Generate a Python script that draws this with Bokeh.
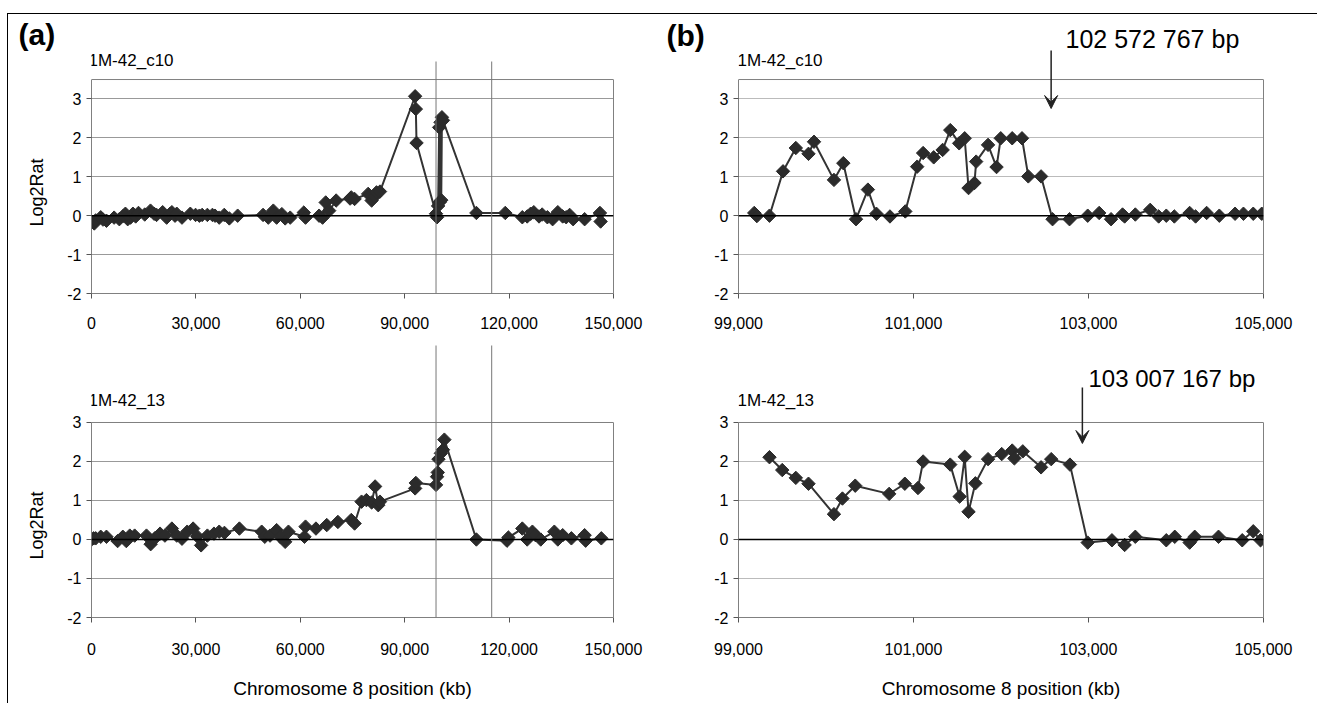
from bokeh.plotting import figure
from bokeh.layouts import column, row
from bokeh.models import (FixedTicker, NumeralTickFormatter, Span, Arrow, VeeHead,
                          Label, Range1d, Title, LinearAxis)
from bokeh.embed import file_html
from bokeh.resources import INLINE

FONT = "Liberation Sans"

# ---------------- data (kb, Log2Rat) ----------------
a_top_x = [0, 800, 1200, 2650, 3300, 4300, 6500, 8000, 9200, 9750, 10400, 11200, 11900,
           12700, 13500, 15300, 16950, 18000, 18700, 20450, 21600, 22600, 23100, 24000,
           24500, 26000, 28400, 29900, 31000, 31800, 33300, 34750, 35500, 36700, 38150,
           39600, 42000, 49300, 50800, 52250, 53200, 54700, 55650, 57100, 61000, 61500,
           65400, 66400, 67300, 68300, 70300, 74300, 74650, 75600, 79500, 80500, 81400,
           81900, 82900, 93000, 93200, 93400, 99000, 99300, 99600, 99900, 100100, 100300,
           100500, 100700, 101000, 110600, 118900, 123800, 125200, 126200, 127100, 128600,
           129500, 131000, 132500, 134000, 135400, 136400, 137400, 138400, 141700, 146100,
           146300]
a_top_y = [-0.17, -0.2, -0.12, -0.04, -0.1, -0.13, -0.05, -0.09, 0.0, 0.05, -0.09, -0.05, 0.05,
           -0.02, 0.07, 0.03, 0.13, 0.05, 0.02, 0.09, -0.05, 0.05, 0.09, 0.0,
           0.05, -0.05, 0.05, 0.02, 0.0, 0.02, 0.02, 0.02, 0.0, -0.05, 0.02,
           -0.07, 0.0, 0.02, -0.05, 0.13, -0.05, 0.04, -0.07, -0.05, 0.08, -0.05,
           0.0, -0.05, 0.34, 0.13, 0.39, 0.44, 0.47, 0.43, 0.56, 0.39, 0.5,
           0.6, 0.62, 3.07, 2.74, 1.87, 0.05, -0.04, 0.25, 2.27, 0.35, 2.4,
           0.4, 2.53, 2.45, 0.07, 0.07, -0.04, -0.02, 0.05, 0.09, -0.02,
           0.03, -0.04, -0.09, 0.09, -0.02, -0.04, 0.02, -0.09, -0.09, 0.07,
           -0.15]

a_bot_x = [0, 600, 1200, 2650, 4300, 7500, 9000, 10000, 11000, 12400, 15800, 17000, 18200,
           19700, 21100, 23100, 24500, 26000, 27500, 29200, 30400, 31500, 33300, 35200,
           36700, 38200, 42500, 48900, 49800, 51300, 53200, 54200, 55650, 56600, 61200,
           61500, 64500, 67600, 70800, 74650, 75600, 77600, 79000, 80500, 81500, 82400,
           82900, 93000, 93200, 99000, 99300, 99500, 99700, 100400, 101000, 101400,
           110600, 119400, 119800, 123800, 125200, 126700, 127600, 129100, 133000,
           134000, 135400, 137900, 141700, 142000, 146500]
a_bot_y = [0.0, 0.03, 0.03, 0.07, 0.07, -0.04, 0.07, -0.04, 0.1, 0.1, 0.1, -0.12, 0.03,
           0.15, 0.1, 0.28, 0.1, 0.02, 0.2, 0.28, 0.08, -0.15, 0.1, 0.15,
           0.2, 0.17, 0.28, 0.2, 0.07, 0.1, 0.24, 0.07, -0.06, 0.2, 0.07,
           0.33, 0.28, 0.37, 0.45, 0.5, 0.41, 0.97, 1.01, 0.95, 1.36, 0.88,
           0.97, 1.31, 1.45, 1.4, 1.61, 1.72, 2.06, 2.21, 2.3, 2.56,
           0.0, -0.03, 0.05, 0.28, 0.0, 0.2, 0.11, 0.0, 0.2,
           0.0, 0.11, 0.03, 0.11, -0.03, 0.03]

b_top_x = [99180, 99210, 99354, 99509, 99655, 99800, 99863, 100091, 100198, 100343, 100479,
           100576, 100731, 100906, 101042, 101110, 101231, 101333, 101420, 101522, 101585,
           101629, 101697, 101716, 101852, 101949, 101997, 102128, 102240, 102312, 102458,
           102589, 102783, 102991, 103122, 103258, 103389, 103413, 103535, 103705, 103802,
           103889, 103981, 104156, 104224, 104350, 104495, 104675, 104771, 104883, 104980]
b_top_y = [0.07, -0.01, 0.0, 1.14, 1.74, 1.59, 1.9, 0.92, 1.35, -0.09, 0.67,
           0.05, -0.02, 0.11, 1.26, 1.61, 1.5, 1.69, 2.2, 1.86, 1.99,
           0.71, 0.84, 1.39, 1.82, 1.25, 1.99, 1.99, 1.99, 1.01, 1.01,
           -0.09, -0.09, 0.0, 0.07, -0.09, 0.03, -0.02, 0.03, 0.15, -0.02,
           0.0, -0.02, 0.07, -0.02, 0.07, 0.0, 0.05, 0.05, 0.05, 0.05]

b_bot_x = [99354, 99500, 99655, 99800, 100091, 100188, 100334, 100722, 100901, 101051,
           101110, 101420, 101527, 101585, 101629, 101707, 101852, 102008, 102128, 102153,
           102249, 102458, 102574, 102788, 102991, 103268, 103413, 103535, 103889, 103986,
           104156, 104214, 104486, 104757, 104883, 104966]
b_bot_y = [2.11, 1.78, 1.58, 1.43, 0.65, 1.05, 1.38, 1.17, 1.43, 1.32,
           2.0, 1.92, 1.1, 2.12, 0.71, 1.44, 2.06, 2.19, 2.28, 2.08,
           2.26, 1.85, 2.06, 1.92, -0.08, -0.02, -0.14, 0.07, -0.02, 0.07,
           -0.08, 0.07, 0.07, -0.02, 0.21, -0.02]

a_xticks = [0, 30000, 60000, 90000, 120000, 150000]
b_xticks = [99000, 101000, 103000, 105000]
y_ticks = [-2, -1, 0, 1, 2, 3]

titles = ["1M-42_c10", "1M-42_13"]
panel_letters = ["(a)", "(b)"]
y_title = "Log2Rat"
x_title = "Chromosome 8 position (kb)"
breakpoint_labels = ["102 572 767 bp", "103 007 167 bp"]
breakpoints = [102573, 102930]
marker_lines = [99000, 115000]


def panel(xs, ys, xr, yr, ybox_top, xticks, width, height, borders,
          xlabel=None, grid_color="#999999", tick_standoff=18):
    p = figure(width=width, height=height, x_range=Range1d(*xr), y_range=Range1d(*yr),
               output_backend="svg", toolbar_location=None, title=None,
               min_border_left=borders[0], min_border_right=borders[1],
               min_border_top=borders[2], min_border_bottom=borders[3],
               background_fill_color="white", border_fill_color="white")
    p.outline_line_color = None

    p.xgrid.visible = False
    p.ygrid.ticker = FixedTicker(ticks=y_ticks)
    p.ygrid.grid_line_color = grid_color
    p.ygrid.grid_line_width = 1

    for ax in (p.xaxis[0], p.yaxis[0]):
        ax.axis_line_color = "#808080"
        ax.major_tick_line_color = "#555555"
        ax.minor_tick_line_color = None
        ax.major_tick_in = 0
        ax.major_tick_out = 5
        ax.major_label_text_font = FONT
        ax.major_label_text_font_size = "16px"
        ax.major_label_text_color = "black"
        ax.axis_label_text_font = FONT
        ax.axis_label_text_font_style = "normal"
        ax.axis_label_text_color = "black"

    p.xaxis.ticker = FixedTicker(ticks=xticks)
    p.xaxis.formatter = NumeralTickFormatter(format="0,0")
    p.xaxis.major_label_standoff = tick_standoff
    p.yaxis.ticker = FixedTicker(ticks=y_ticks)
    p.yaxis.formatter = NumeralTickFormatter(format="0")
    p.yaxis.major_label_standoff = 5
    p.yaxis.bounds = (yr[0], ybox_top)
    if xlabel:
        p.xaxis.axis_label = xlabel
        p.xaxis.axis_label_text_font_size = "19px"
        p.xaxis.axis_label_standoff = 20

    # plot-area box: right edge and top edge
    p.add_layout(LinearAxis(bounds=(yr[0], ybox_top), ticker=FixedTicker(ticks=[]),
                            major_label_text_font_size="0px", major_tick_line_color=None,
                            minor_tick_line_color=None, axis_line_color="#808080"), "right")
    p.add_layout(Span(location=ybox_top, dimension="width", line_color="#808080",
                      line_width=1))

    p.add_layout(Span(location=0, dimension="width", line_color="black", line_width=1.5))
    p.line(xs, ys, line_color="#333333", line_width=2)
    p.scatter(xs, ys, marker="square", angle=0.7854, size=9.5,
              fill_color="#2b2b2b", line_color="#2b2b2b")
    return p


def text_label(p, x, y, text, size, **kw):
    p.add_layout(Label(x=x, y=y, text=text, text_font=FONT, text_font_size=size,
                       text_baseline="middle", text_align="left", text_color="black", **kw))


def y_title_on(p, offset):
    p.add_layout(Title(text=y_title, align="left", vertical_align="top", offset=offset,
                       standoff=31, text_font=FONT, text_font_size="18px",
                       text_font_style="normal", text_color="black"), "left")


def top_title(p, text, offset, standoff, size, bold=False):
    p.add_layout(Title(text=text, align="left", offset=offset, standoff=standoff,
                       text_font=FONT, text_font_size=size, text_color="black",
                       text_font_style="bold" if bold else "normal"), "above")


W_A, W_B = 652, 657
H_T, H_B = 331, 358

a_top = panel(a_top_x, a_top_y, (0, 150000), (-2, 4.503), 3.5, a_xticks,
              W_A, H_T, (83, 47, 26, 52))
b_top = panel(b_top_x, b_top_y, (99000, 105000), (-2, 4.503), 3.5, b_xticks,
              W_B, H_T, (78, 54, 26, 52), grid_color="#bbbbbb")
a_bot = panel(a_bot_x, a_bot_y, (0, 150000), (-2, 4.974), 3, a_xticks,
              W_A, H_B, (83, 47, 0, 86), xlabel=x_title, tick_standoff=20)
b_bot = panel(b_bot_x, b_bot_y, (99000, 105000), (-2, 4.974), 3, b_xticks,
              W_B, H_B, (78, 54, 0, 86), xlabel=x_title,
              grid_color="#bbbbbb", tick_standoff=20)

y_title_on(a_top, 67)
y_title_on(a_bot, 58)

# texts above the top frames: panel letters and the first breakpoint label
top_title(a_top, panel_letters[0], -73, -21, "30px", bold=True)
top_title(b_top, breakpoint_labels[0], 327, -24, "25px")
top_title(b_top, panel_letters[1], -72, -34, "30px", bold=True)

# sample names
text_label(a_top, 0, 3.988, titles[0], "17px", x_offset=-3)
text_label(b_top, 99000, 3.988, titles[0], "17px", x_offset=-1)
text_label(a_bot, 0, 3.564, titles[1], "17px", x_offset=-3)
text_label(b_bot, 99000, 3.564, titles[1], "17px", x_offset=-1)

# second breakpoint label (inside the lower frame)
text_label(b_bot, 103000, 4.128, breakpoint_labels[1], "24px")

# vertical marker lines across panel (a)
for xm in marker_lines:
    a_top.add_layout(Arrow(end=None, x_start=xm, y_start=3.963, x_end=xm, y_end=-2.2,
                           line_color="#777777", line_width=1))
    a_bot.add_layout(Arrow(end=None, x_start=xm, y_start=5.1, x_end=xm, y_end=-2.41,
                           line_color="#777777", line_width=1))

# breakpoint arrows
for p, bx, ys, ye in [(b_top, breakpoints[0], 4.245, 2.755),
                      (b_bot, breakpoints[1], 3.897, 2.462)]:
    p.add_layout(Arrow(end=VeeHead(size=13, fill_color="#222222", line_color="#222222"),
                       x_start=bx, y_start=ys, x_end=bx, y_end=ye,
                       line_color="#222222", line_width=1.5))

layout = column(row(a_top, b_top), row(a_bot, b_bot), margin=(13, 0, 0, 7),
                styles={"border-top": "1px solid black", "border-left": "1px solid black"})

open("out.html", "w").write(file_html(layout, INLINE))
